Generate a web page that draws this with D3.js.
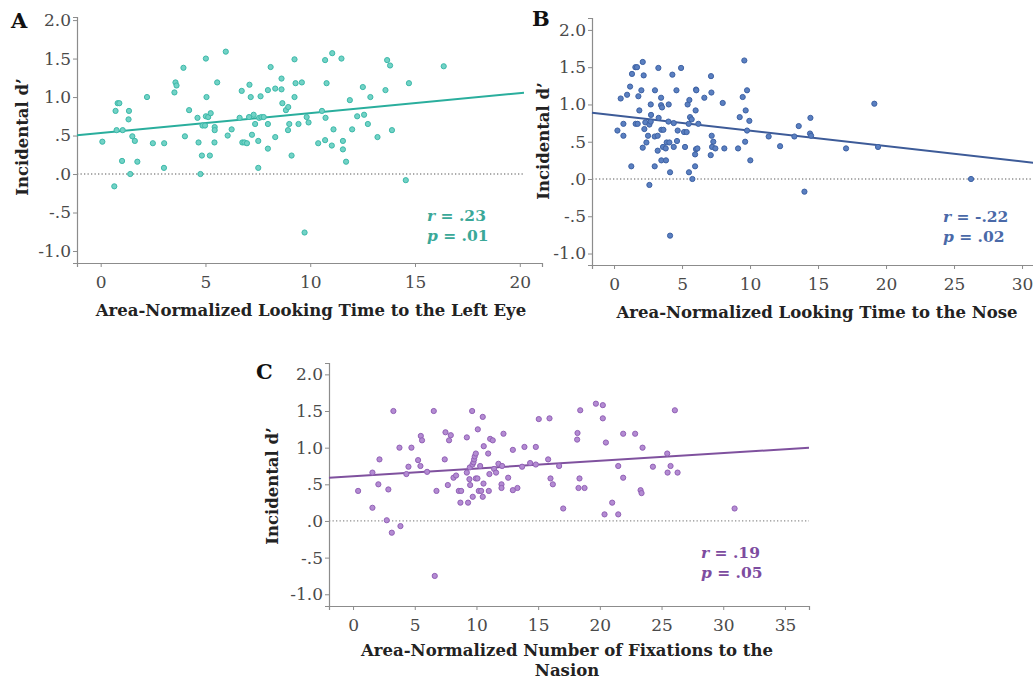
<!DOCTYPE html>
<html>
<head>
<meta charset="utf-8">
<script src="https://cdn.jsdelivr.net/npm/d3@7"></script>
<style>
  html, body { margin: 0; padding: 0; background: #fff; }
  svg { display: block; font-family: "DejaVu Serif", serif; }
</style>
</head>
<body>
<svg id="chart" width="1033" height="680"></svg>
<script>
// Incidental d' against area-normalized looking measures: [x, d']
const leftEye = [
  [0.08,0.42],[0.65,-0.16],[0.71,0.82],[0.81,0.92],[0.89,0.92],[0.76,0.57],[1.05,0.57],[1.02,0.17],
  [1.35,0.82],[1.33,0.71],[1.51,0.49],[1.63,0.43],[1.41,0.00],[1.75,0.16],[2.21,1.00],[2.49,0.40],
  [3.03,0.40],[3.02,0.08],[3.52,1.06],[3.57,1.19],[3.62,1.15],[3.95,1.38],[4.02,0.49],[4.22,0.83],
  [4.62,0.73],[4.67,0.41],[4.76,0.00],[4.83,0.24],[5.02,1.50],[5.05,1.00],[5.02,0.75],[5.13,0.74],
  [5.25,0.79],[4.86,0.63],[4.98,0.63],[5.21,0.24],[5.44,0.61],[5.44,0.57],[5.43,0.41],[5.56,1.19],
  [5.97,1.59],[6.06,0.50],[6.25,0.58],[6.63,0.73],[6.73,1.08],[6.76,0.41],[6.86,0.41],[6.98,0.40],
  [7.10,1.16],[7.16,1.00],[7.08,0.74],[7.22,0.51],[7.30,0.77],[7.37,0.65],[7.52,0.43],[7.52,0.08],
  [7.56,0.73],[7.63,1.01],[7.67,0.74],[7.78,0.74],[7.98,1.09],[7.98,0.65],[7.98,0.33],[8.11,1.39],
  [8.33,1.11],[8.33,0.48],[8.63,1.24],[8.63,1.10],[8.67,0.92],[8.84,0.83],[8.95,0.87],[8.94,0.57],
  [9.00,0.65],[9.11,0.24],[9.25,1.49],[9.30,1.18],[9.25,1.00],[9.44,0.65],[9.60,1.19],[9.73,-0.76],
  [9.83,0.74],[9.92,0.67],[10.38,0.40],[10.56,0.82],[10.71,1.48],[10.78,1.18],[10.73,0.73],[10.71,0.44],
  [11.05,1.57],[11.03,0.37],[11.11,0.58],[11.49,1.50],[11.56,0.43],[11.56,0.32],[11.71,0.16],[11.89,0.96],
  [12.00,0.58],[12.24,0.75],[12.51,1.13],[12.57,0.77],[12.75,0.65],[12.87,1.00],[13.21,0.48],[13.59,1.09],
  [13.67,1.48],[13.81,1.41],[13.90,0.57],[14.56,-0.08],[14.71,1.18],[16.37,1.40]
];

const nose = [
  [0.25,0.65],[0.49,1.08],[0.69,0.74],[0.69,0.58],[0.96,1.13],[1.18,1.24],[1.32,1.41],[1.27,0.17],
  [1.57,1.50],[1.69,1.50],[1.79,1.11],[1.86,0.92],[1.59,0.74],[1.74,0.74],[2.01,1.19],[2.11,1.57],
  [2.18,1.39],[2.11,0.42],[2.23,0.67],[2.30,0.76],[2.38,0.49],[2.50,0.58],[2.60,0.73],[2.60,-0.08],
  [2.70,1.00],[2.72,0.86],[2.70,0.77],[3.01,1.19],[2.99,0.57],[2.99,0.17],[3.26,1.49],[3.28,0.82],
  [3.21,0.58],[3.21,0.38],[3.46,1.09],[3.46,0.99],[3.53,0.96],[3.48,0.66],[3.63,0.66],[3.48,0.25],
  [3.60,0.43],[3.80,0.41],[3.82,0.25],[3.87,0.49],[4.02,1.00],[4.00,0.77],[4.07,0.49],[4.12,0.09],
  [4.12,-0.76],[4.29,1.40],[4.39,0.75],[4.39,0.43],[4.59,1.19],[4.68,0.65],[4.63,0.51],[4.93,1.49],
  [5.15,0.63],[5.34,0.63],[5.22,0.43],[5.41,1.00],[5.54,1.06],[5.51,0.09],[5.59,0.83],[5.71,0.80],
  [5.76,0.00],[5.49,0.74],[5.96,0.17],[5.96,0.33],[6.00,0.92],[6.03,1.20],[6.05,1.19],[6.03,0.40],
  [6.13,0.41],[6.20,0.74],[6.64,1.09],[7.13,1.38],[7.16,1.16],[7.18,0.58],[7.30,0.50],[7.21,0.43],
  [7.45,0.41],[7.11,0.32],[7.99,1.02],[8.11,0.41],[9.12,0.41],[9.24,0.83],[9.46,1.10],[9.58,1.59],
  [9.68,0.92],[9.78,1.19],[9.78,0.65],[9.95,0.78],[9.64,0.50],[10.02,0.25],[11.37,0.57],[12.21,0.44],
  [13.26,0.57],[13.58,0.71],[14.00,-0.17],[14.41,0.61],[14.44,0.82],[14.49,0.58],[17.06,0.41],[19.14,1.01],
  [19.41,0.43],[26.25,0.00]
];

const nasion = [
  [0.41,0.41],[1.57,0.66],[1.57,0.18],[2.05,0.50],[2.14,0.84],[2.73,0.01],[2.86,0.43],[3.14,-0.16],
  [3.27,1.50],[3.76,1.00],[3.84,-0.07],[4.32,0.64],[4.49,0.74],[4.73,1.00],[5.27,0.83],[5.46,0.75],
  [5.49,1.16],[5.59,1.10],[6.00,0.67],[6.54,1.50],[6.62,-0.75],[6.76,0.41],[7.43,0.84],[7.49,1.21],
  [7.78,1.10],[7.92,1.17],[7.68,0.49],[8.14,0.59],[8.35,0.62],[8.57,0.41],[8.76,0.41],[8.70,0.25],
  [9.22,1.14],[9.22,0.66],[9.32,0.25],[9.43,0.57],[9.46,0.73],[9.49,0.49],[9.65,1.50],[9.70,0.33],
  [9.68,0.77],[9.76,0.80],[9.81,0.84],[9.86,0.88],[9.95,0.92],[9.95,0.58],[10.08,0.58],[10.11,1.25],
  [10.19,0.41],[10.30,0.75],[10.38,0.41],[10.51,1.42],[10.51,0.33],[10.57,0.51],[10.59,1.02],[10.95,0.92],
  [11.00,0.41],[11.05,0.64],[11.11,1.12],[11.32,1.10],[11.43,0.71],[11.59,0.66],[11.78,0.78],[12.03,0.50],
  [12.03,0.45],[12.08,0.75],[12.19,1.19],[12.57,0.59],[12.95,0.42],[12.95,0.97],[13.32,0.45],[13.70,0.74],
  [13.89,1.01],[14.35,0.79],[14.81,1.01],[14.81,0.77],[15.05,1.39],[15.81,0.84],[15.92,1.40],[16.00,0.58],
  [16.19,0.50],[16.70,0.75],[17.03,0.17],[18.16,1.11],[18.19,1.20],[18.41,1.51],[18.35,0.58],[18.27,0.45],
  [18.76,0.45],[19.68,1.60],[20.24,1.58],[20.24,1.40],[20.49,1.07],[20.38,0.09],[21.00,0.25],[21.49,0.75],
  [21.49,0.09],[21.89,0.59],[21.89,1.19],[22.86,1.19],[23.30,0.42],[23.38,0.38],[23.46,1.00],[24.30,0.74],
  [25.46,0.92],[25.49,0.66],[25.73,0.75],[26.08,1.51],[26.30,0.66],[30.92,0.17]
];

// Linear fits: [intercept, slope]
const fitLeftEye = [0.532, 0.026];
const fitNose = [0.854, -0.0206];
const fitNasion = [0.61, 0.0105];

// Correlation annotations
const statR = [".23", "-.22", ".19"];
const statP = [".01", ".02", ".05"];

// Axis ticks
const yTickValues = [-1, -0.5, 0, 0.5, 1, 1.5, 2];
const yTickLabels = ["-1.0", "-.5", ".0", ".5", "1.0", "1.5", "2.0"];
const xTicksLeftEye = [0, 5, 10, 15, 20];
const xTicksNose = [0, 5, 10, 15, 20, 25, 30];
const xTicksNasion = [0, 5, 10, 15, 20, 25, 30, 35];

const panelLetters = ["A", "B", "C"];
const yTitle = "Incidental d\u2019";
const xTitles = [
  ["Area-Normalized Looking Time to the Left Eye"],
  ["Area-Normalized Looking Time to the Nose"],
  ["Area-Normalized Number of Fixations to the", "Nasion"]
];

const panels = [
  {
    pts: leftEye, fit: fitLeftEye, xTicks: xTicksLeftEye,
    xDomain: [-1.13, 21.06], xRange: [77, 542], lineMax: 20.2,
    yDomain: [-1.156, 2.04], yRange: [263, 17],
    fill: "#72d2c6", stroke: "#3cb9a9", line: "#2aae9d", text: "#3aa898",
    letterPos: [11, 28], yTitlePos: [22, 137], xTitleY: 316,
    statPos: [427, 221], xTitleX: 311
  },
  {
    pts: nose, fit: fitNose, xTicks: xTicksNose,
    xDomain: [-1.62, 30.85], xRange: [592, 1033.6], lineMax: 30.85,
    yDomain: [-1.154, 2.16], yRange: [265, 18],
    fill: "#5a7fc0", stroke: "#3e62a4", line: "#3d5b98", text: "#4a69a8",
    letterPos: [532, 26], yTitlePos: [543, 141], xTitleY: 318,
    statPos: [943, 222], xTitleX: 817
  },
  {
    pts: nasion, fit: fitNasion, xTicks: xTicksNasion,
    xDomain: [-1.95, 36.95], xRange: [329, 809], lineMax: 36.95,
    yDomain: [-1.16, 2.155], yRange: [606, 363],
    fill: "#b38bd2", stroke: "#9261b6", line: "#7f519e", text: "#7d4ca0",
    letterPos: [256, 379], yTitlePos: [272, 486], xTitleY: 656,
    statPos: [701, 558], xTitleX: 567
  }
];

const svg = d3.select("#chart");
const axisColor = "#8c8c8c";
const tickText = "#4a4a4a";

panels.forEach((p, i) => {
  const x = d3.scaleLinear().domain(p.xDomain).range(p.xRange);
  const y = d3.scaleLinear().domain(p.yDomain).range(p.yRange);
  const g = svg.append("g");

  // zero reference line (dotted)
  g.append("line")
    .attr("x1", x(p.xDomain[0])).attr("x2", x(p.lineMax))
    .attr("y1", y(0)).attr("y2", y(0))
    .attr("stroke", "#8f8f8f").attr("stroke-width", 1.3)
    .attr("stroke-dasharray", "1.3,2.2");

  // axes
  const yAxis = d3.axisLeft(y).tickValues(yTickValues)
    .tickFormat((d, k) => yTickLabels[k]).tickSizeOuter(0).tickSize(4).tickPadding(2);
  const xAxis = d3.axisBottom(x).tickValues(p.xTicks)
    .tickFormat(d3.format("d")).tickSizeOuter(0).tickSize(4).tickPadding(9);

  const ya = g.append("g").attr("transform", `translate(${p.xRange[0]},0)`).call(yAxis);
  const xa = g.append("g").attr("transform", `translate(0,${p.yRange[0]})`).call(xAxis);
  [ya, xa].forEach(a => {
    a.select(".domain").attr("stroke", axisColor).attr("stroke-width", 1.2);
    a.selectAll(".tick line").attr("stroke", axisColor).attr("stroke-width", 1);
    a.selectAll(".tick text").attr("fill", tickText)
      .style("font-family", "'DejaVu Serif', serif").style("font-size", "17px");
  });

  // fit line
  g.append("line")
    .attr("x1", x(p.xDomain[0])).attr("y1", y(p.fit[0] + p.fit[1] * p.xDomain[0]))
    .attr("x2", x(p.lineMax)).attr("y2", y(p.fit[0] + p.fit[1] * p.lineMax))
    .attr("stroke", p.line).attr("stroke-width", 2);

  // points
  g.append("g").selectAll("circle").data(p.pts).join("circle")
    .attr("cx", d => x(d[0])).attr("cy", d => y(d[1]))
    .attr("r", 2.6)
    .attr("fill", p.fill).attr("stroke", p.stroke).attr("stroke-width", 1);

  // panel letter
  g.append("text").attr("x", p.letterPos[0]).attr("y", p.letterPos[1])
    .attr("font-size", 21).attr("font-weight", "bold").attr("fill", "#111")
    .text(panelLetters[i]);

  // y title
  g.append("text")
    .attr("transform", `translate(${p.yTitlePos[0] + 6},${p.yTitlePos[1]}) rotate(-90)`)
    .attr("text-anchor", "middle").attr("font-size", 16.5).attr("font-weight", "bold")
    .attr("fill", "#222").text(yTitle);

  // x title
  xTitles[i].forEach((line, k) => {
    g.append("text").attr("x", p.xTitleX).attr("y", p.xTitleY + k * 20)
      .attr("text-anchor", "middle").attr("font-size", 16.5).attr("font-weight", "bold")
      .attr("fill", "#222").text(line);
  });

  // correlation annotation
  const s1 = g.append("text").attr("x", p.statPos[0]).attr("y", p.statPos[1])
    .attr("font-size", 15.5).attr("font-weight", "bold").attr("fill", p.text);
  s1.append("tspan").attr("font-style", "italic").text("r");
  s1.append("tspan").text(" = " + statR[i]);
  const s2 = g.append("text").attr("x", p.statPos[0]).attr("y", p.statPos[1] + 20)
    .attr("font-size", 15.5).attr("font-weight", "bold").attr("fill", p.text);
  s2.append("tspan").attr("font-style", "italic").text("p");
  s2.append("tspan").text(" = " + statP[i]);
});
</script>
</body>
</html>
